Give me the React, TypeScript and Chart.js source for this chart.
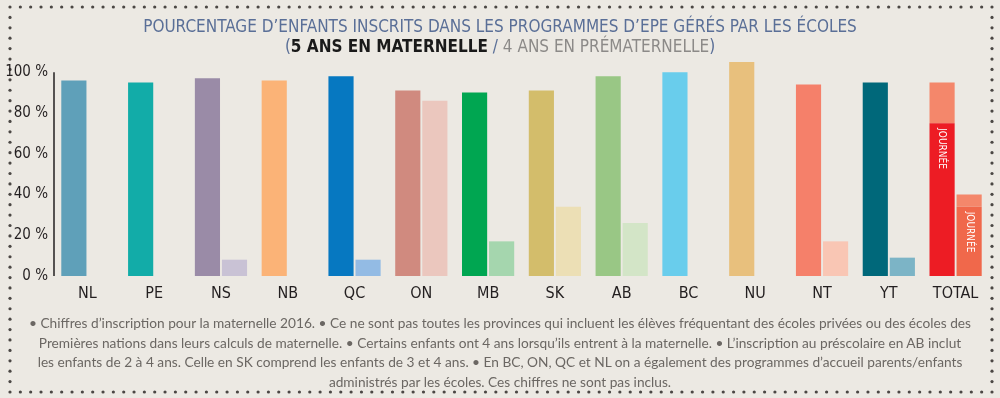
import React, { useEffect, useRef } from "react";
import { Chart, registerables } from "chart.js";

Chart.register(...registerables);

const categories = ["NL", "PE", "NS", "NB", "QC", "ON", "MB", "SK", "AB", "BC", "NU", "NT", "YT", "TOTAL"];
const kindergarten = [96, 95, 97, 96, 98, 91, 90, 91, 98, 100, 105, 94, 95, 75];
const kindergartenExtra = [null, null, null, null, null, null, null, null, null, null, null, null, null, 20];
const preKindergarten = [null, null, 8, null, 8, 86, 17, 34, 26, null, null, 17, 9, 34];
const preKindergartenExtra = [null, null, null, null, null, null, null, null, null, null, null, null, null, 6];
const yTicks = [0, 20, 40, 60, 80, 100];

const kColors = ["#5fa0b9", "#12aca8", "#9a8ba7", "#fbb377", "#0678c1", "#d08a7f", "#00a651", "#d3bd6b", "#99c785", "#69cdec", "#e8c07d", "#f5806a", "#00687a", "#ed1c24"];
const pColors = ["#cccccc", "#cccccc", "#c9c2d5", "#cccccc", "#93bbe4", "#ebc7be", "#a5d6ae", "#ecdfb5", "#d3e5c7", "#cccccc", "#cccccc", "#f9c6b4", "#7cb4c6", "#f0684b"];
const extraColor = "#f4876b";

const titleLine1 = "POURCENTAGE D’ENFANTS INSCRITS DANS LES PROGRAMMES D’EPE GÉRÉS PAR LES ÉCOLES";
const dayLabel = "JOURNÉE";
const notes = [
  "• Chiffres d’inscription pour la maternelle 2016. • Ce ne sont pas toutes les provinces qui incluent les élèves fréquentant des écoles privées ou des écoles des",
  "Premières nations dans leurs calculs de maternelle. • Certains enfants ont 4 ans lorsqu’ils entrent à la maternelle. • L’inscription au préscolaire en AB inclut",
  "les enfants de 2 à 4 ans. Celle en SK comprend les enfants de 3 et 4 ans. • En BC, ON, QC et NL on a également des programmes d’accueil parents/enfants",
  "administrés par les écoles. Ces chiffres ne sont pas inclus.",
];

const condensed = "'Liberation Sans Narrow', 'DejaVu Sans Condensed', 'Roboto Condensed', Roboto, sans-serif";

const framePlugin = {
  id: "frame",
  beforeDraw(chart: any) {
    const ctx = chart.ctx;
    ctx.save();
    ctx.fillStyle = "#4b4744";
    const left = 10, right = 992, top = 7, bottom = 392;
    const nx = 95, ny = 37;
    const dot = (x: number, y: number) => {
      ctx.beginPath();
      ctx.arc(x, y, 1.6, 0, Math.PI * 2);
      ctx.fill();
    };
    for (let i = 0; i <= nx; i++) {
      const x = left + ((right - left) * i) / nx;
      dot(x, top);
      dot(x, bottom);
    }
    for (let j = 1; j < ny; j++) {
      const y = top + ((bottom - top) * j) / ny;
      dot(left, y);
      dot(right, y);
    }
    ctx.restore();
  },
  afterDraw(chart: any) {
    const ctx = chart.ctx;
    const yScale = chart.scales.y;
    const x = chart.chartArea.left;
    ctx.save();
    ctx.strokeStyle = "#231f20";
    ctx.lineWidth = 1.5;
    ctx.beginPath();
    ctx.moveTo(x, yScale.getPixelForValue(100));
    ctx.lineTo(x, yScale.getPixelForValue(0));
    ctx.stroke();
    // "JOURNÉE" labels on the TOTAL bars
    const last = categories.length - 1;
    [0, 2].forEach((di) => {
      const el = chart.getDatasetMeta(di).data[last];
      if (!el) return;
      ctx.save();
      ctx.translate(el.x, el.y + 5);
      ctx.rotate(Math.PI / 2);
      ctx.fillStyle = "#ffffff";
      ctx.font = "10px " + condensed;
      ctx.textAlign = "left";
      ctx.textBaseline = "middle";
      ctx.fillText(dayLabel, 0, 0);
      ctx.restore();
    });
    ctx.restore();
  },
};

export default function App() {
  const ref = useRef<HTMLCanvasElement>(null);
  useEffect(() => {
    if (!ref.current) return;
    const chart = new Chart(ref.current, {
      type: "bar",
      data: {
        labels: categories,
        datasets: [
          { label: "Maternelle", data: kindergarten, backgroundColor: kColors, stack: "k" },
          { label: "Maternelle (reste)", data: kindergartenExtra, backgroundColor: extraColor, stack: "k" },
          { label: "Prématernelle", data: preKindergarten, backgroundColor: pColors, stack: "p" },
          { label: "Prématernelle (reste)", data: preKindergartenExtra, backgroundColor: extraColor, stack: "p" },
        ] as any,
      },
      options: {
        animation: false,
        responsive: false,
        maintainAspectRatio: false,
        datasets: { bar: { categoryPercentage: 0.81, barPercentage: 0.93 } } as any,
        layout: { padding: { left: 0, right: 11, top: 60, bottom: 0 } },
        plugins: { legend: { display: false }, title: { display: false }, tooltip: { enabled: false } },
        scales: {
          x: {
            stacked: true,
            grid: { display: false, drawTicks: false },
            border: { display: false },
            ticks: { color: "#231f20", font: { family: condensed, size: 16 }, padding: 8, maxRotation: 0 },
            afterFit: (s: any) => { s.height = 122; },
          },
          y: {
            stacked: true,
            min: 0,
            max: 106,
            grid: { display: false, drawTicks: false },
            border: { display: false },
            afterBuildTicks: (s: any) => { s.ticks = yTicks.map((v) => ({ value: v })); },
            ticks: {
              color: "#231f20",
              font: { family: condensed, size: 15 },
              padding: 6,
              callback: (v: any) => v + " %",
            },
            afterFit: (s: any) => { s.width = 54; },
          },
        },
      },
      plugins: [framePlugin],
    });
    return () => chart.destroy();
  }, []);

  return (
    <div style={{ position: "absolute", left: 0, top: 0, width: 1000, height: 398, background: "#ece9e3", overflow: "hidden" }}>
      <canvas ref={ref} width={1000} height={398} style={{ position: "absolute", left: 0, top: 0 }} />
      <div style={{ position: "absolute", left: 0, top: 16, width: 1000, textAlign: "center", fontFamily: condensed, fontSize: 17, lineHeight: "20px", color: "#5a6f97" }}>
        <div>{titleLine1}</div>
        <div>
          (<span style={{ color: "#1a1a1a", fontWeight: "bold" }}>5 ANS EN MATERNELLE</span> / <span style={{ color: "#8c8a88" }}>4 ANS EN PRÉMATERNELLE</span>)
        </div>
      </div>
      <div style={{ position: "absolute", left: 0, top: 313, width: 1000, textAlign: "center", fontFamily: "Lato, 'Open Sans', sans-serif", fontSize: 13.7, lineHeight: "19.5px", color: "#6b6763" }}>
        {notes.map((n, i) => (
          <div key={i} style={{ whiteSpace: "nowrap" }}>{n}</div>
        ))}
      </div>
    </div>
  );
}
